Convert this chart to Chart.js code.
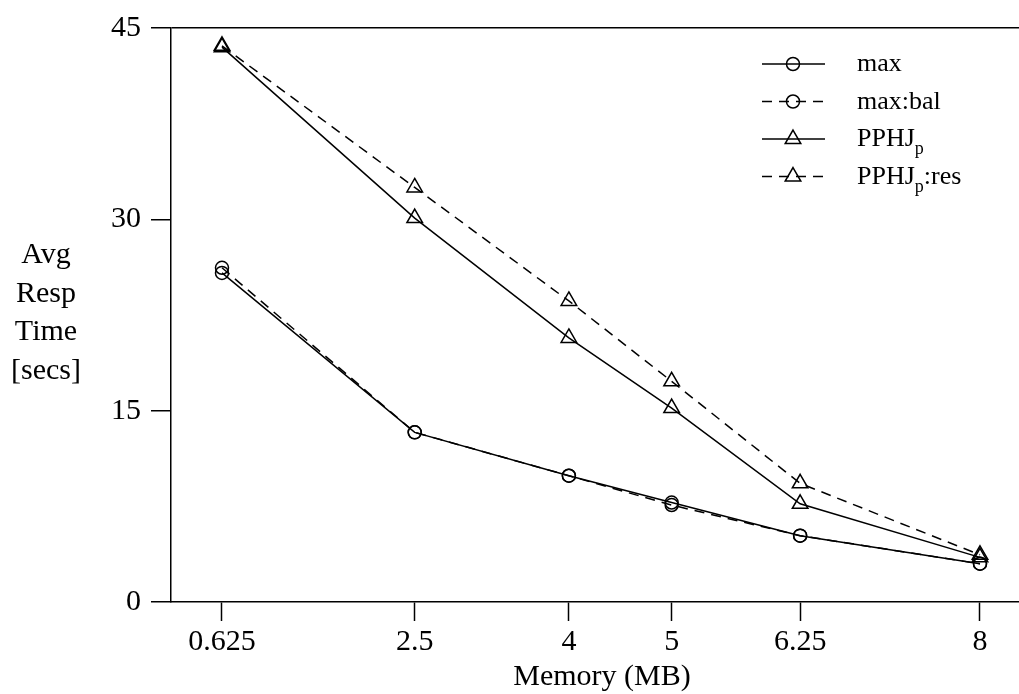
<!DOCTYPE html>
<html>
<head>
<meta charset="utf-8">
<script src="https://cdn.jsdelivr.net/npm/chart.js@4/dist/chart.umd.min.js"></script>
<style>
  html, body { margin: 0; padding: 0; background: #fff; overflow: hidden; }
  canvas { display: block; }
</style>
</head>
<body>
<canvas id="c" width="1019" height="694" style="width:1019px;height:694px"></canvas>
<script>
// ---- data ----
const memoryMB   = [0.625, 2.5, 4, 5, 6.25, 8];
const xTickLabels = ['0.625', '2.5', '4', '5', '6.25', '8'];
const yTickValues = [0, 15, 30, 45];
const seriesNames = ['max', 'max:bal', 'PPHJ_p', 'PPHJ_p:res'];
const maxResp      = [25.8, 13.3, 9.9, 7.8, 5.2, 3.0];
const maxBalResp   = [26.2, 13.3, 9.9, 7.6, 5.2, 3.0];
const pphjResp     = [43.5, 30.1, 20.7, 15.2, 7.7, 3.5];
const pphjResResp  = [43.6, 32.5, 23.6, 17.3, 9.3, 3.7];
const yTitleLines = ['Avg', 'Resp', 'Time', '[secs]'];
const xTitle = 'Memory (MB)';

const FONT = "'Liberation Serif', 'Times New Roman', serif";

function pts(vals) { return memoryMB.map((x, i) => ({ x: x, y: vals[i] })); }

function mkSet(label, vals, dashed, style, radius) {
  return {
    label: label,
    data: pts(vals),
    borderColor: '#000',
    borderWidth: 1.5,
    borderDash: dashed ? [10, 7] : [],
    pointStyle: style,
    pointRadius: radius,
    pointHoverRadius: radius,
    pointBorderColor: '#000',
    pointBackgroundColor: 'rgba(0,0,0,0)',
    pointBorderWidth: 1.5,
    fill: false,
    tension: 0
  };
}

const datasets = [
  mkSet(seriesNames[0], maxResp, false, 'circle', 6.5),
  mkSet(seriesNames[1], maxBalResp, true, 'circle', 6.5),
  mkSet(seriesNames[2], pphjResp, false, 'triangle', 9),
  mkSet(seriesNames[3], pphjResResp, true, 'triangle', 9)
];

function drawRichText(ctx, text, x, y, size) {
  // "_c" => subscript c
  const parts = text.split(/_(\w)/);
  let cx = x;
  for (let i = 0; i < parts.length; i++) {
    if (!parts[i]) continue;
    if (i % 2 === 1) {
      ctx.font = Math.round(size * 0.68) + 'px ' + FONT;
      ctx.fillText(parts[i], cx, y + size * 0.32);
      cx += ctx.measureText(parts[i]).width;
    } else {
      ctx.font = size + 'px ' + FONT;
      ctx.fillText(parts[i], cx, y);
      cx += ctx.measureText(parts[i]).width;
    }
  }
}

const decorPlugin = {
  id: 'decor',
  afterDraw(chart) {
    const ctx = chart.ctx;
    ctx.save();
    ctx.fillStyle = '#000';
    // y title (horizontal multi-line)
    ctx.font = '30px ' + FONT;
    ctx.textAlign = 'center';
    ctx.textBaseline = 'alphabetic';
    yTitleLines.forEach((t, i) => ctx.fillText(t, 46, 263 + i * 38.5));
    // x title
    ctx.fillText(xTitle, 602, 685);
    // legend
    const lx0 = 762, lx1 = 825, mx = 793, tx = 857;
    chart.data.datasets.forEach((ds, i) => {
      const ly = 64 + i * 37.5;
      ctx.strokeStyle = '#000';
      ctx.lineWidth = 1.5;
      ctx.setLineDash(ds.borderDash || []);
      ctx.beginPath();
      ctx.moveTo(lx0, ly);
      ctx.lineTo(lx1, ly);
      ctx.stroke();
      ctx.setLineDash([]);
      ctx.fillStyle = 'rgba(0,0,0,0)';
      Chart.helpers.drawPoint(ctx, {
        pointStyle: ds.pointStyle, radius: ds.pointRadius, rotation: 0, borderWidth: 1.5
      }, mx, ly);
      ctx.fillStyle = '#000';
      ctx.textAlign = 'left';
      ctx.textBaseline = 'alphabetic';
      drawRichText(ctx, ds.label, tx, ly + 7, 26);
    });
    ctx.restore();
  }
};

new Chart(document.getElementById('c'), {
  type: 'line',
  data: { datasets: datasets },
  plugins: [decorPlugin],
  options: {
    responsive: false,
    maintainAspectRatio: false,
    devicePixelRatio: 1,
    animation: false,
    events: [],
    layout: { autoPadding: false, padding: { top: 24, left: 0, right: 0, bottom: 0 } },
    plugins: { legend: { display: false }, tooltip: { enabled: false }, title: { display: false } },
    scales: {
      x: {
        type: 'linear',
        offset: false,
        min: 0.1288,
        max: 8.3795,
        afterBuildTicks(scale) { scale.ticks = memoryMB.map(v => ({ value: v })); },
        afterFit(scale) { scale.height = 92; scale.paddingLeft = 0; scale.paddingRight = 0; },
        border: { display: true, color: '#000', width: 1.5 },
        grid: { drawOnChartArea: false, drawTicks: true, tickLength: 19, tickColor: '#000', tickWidth: 1.5, color: '#000' },
        ticks: {
          autoSkip: false, maxRotation: 0, padding: 3, color: '#000',
          font: { family: FONT, size: 30 },
          callback(value) { const i = memoryMB.indexOf(value); return i >= 0 ? xTickLabels[i] : ''; }
        }
      },
      y: {
        type: 'linear',
        min: 0,
        max: 45,
        afterBuildTicks(scale) { scale.ticks = yTickValues.map(v => ({ value: v })); },
        afterFit(scale) { scale.width = 171; },
        border: { display: true, color: '#000', width: 1.5 },
        grid: {
          drawOnChartArea: true, drawTicks: true, tickLength: 20, tickColor: '#000', tickWidth: 1.5,
          lineWidth: 1.5,
          color(ctx) { return ctx.tick && ctx.tick.value === 45 ? '#000' : 'rgba(0,0,0,0)'; }
        },
        ticks: { padding: 10, color: '#000', font: { family: FONT, size: 30 } }
      }
    }
  }
});
</script>
</body>
</html>
